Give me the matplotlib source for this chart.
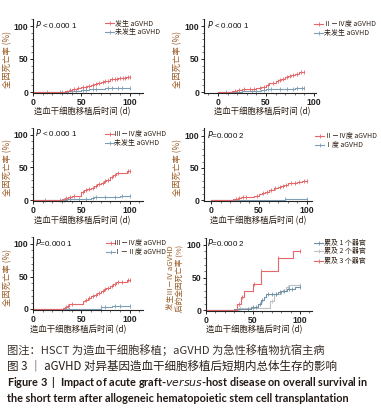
import numpy as np
import matplotlib
matplotlib.use("Agg")
import matplotlib.pyplot as plt
from matplotlib.lines import Line2D
from matplotlib.ticker import MultipleLocator

plt.rcParams['font.family'] = ['Noto Sans CJK SC', 'DejaVu Sans']

W, H = 381, 413

# ---------------- data ----------------
# Panel 1: 发生 aGVHD vs 未发生 aGVHD
p1_red_t = [0, 33, 35, 37, 40, 43, 46, 50, 53, 56, 60, 63, 66, 70, 73, 76, 80, 84, 88, 92, 96]
p1_red_v = [0, 1, 2, 3, 4, 5, 6, 7, 8, 9, 10, 12, 13, 15, 16, 17, 19, 20, 21, 21.5, 22.5]
p1_red_c = [38, 42, 47, 52, 55, 58, 62, 65, 68, 72, 75, 78, 82, 85, 87, 90, 93, 95, 98, 100]
p1_blue_t = [0, 36, 42, 50, 58, 62, 75]
p1_blue_v = [0, 1, 2, 3, 4, 5, 6]
p1_blue_c = [15, 28, 30, 35, 40, 45, 52, 55, 62, 65, 78, 82, 88, 92, 100]

# Panel 2: II-IV 度 vs 未发生
p2_red_t = [0, 15, 20, 25, 30, 40, 45, 50, 53, 56, 60, 63, 66, 70, 73, 76, 80, 84, 88]
p2_red_v = [0, 1, 3, 4, 5, 6, 8, 11, 13, 14, 16, 18, 20, 23, 25, 26, 28, 30, 31]
p2_red_c = [18, 22, 27, 33, 38, 44, 48, 52, 57, 62, 65, 68, 72, 75, 78, 82, 86, 90]
p2_blue_t = [0, 25, 30, 45, 50, 60, 80]
p2_blue_v = [0, 1, 2, 3, 4, 5, 6]
p2_blue_c = [8, 20, 25, 35, 40, 48, 52, 55, 65, 72, 78, 82, 88, 90]

# Panel 3: III-IV 度 vs 未发生
p3_red_t = [0, 30, 33, 36, 40, 50, 53, 56, 60, 63, 66, 70, 73, 76, 80, 83, 86, 97]
p3_red_v = [0, 2, 3, 5, 6, 12, 15, 17, 19, 22, 24, 26, 29, 31, 35, 38, 41, 44]
p3_red_c = [34, 38, 42, 52, 55, 58, 62, 65, 68, 72, 75, 78, 82, 85, 88, 98, 100]
p3_blue_t = [0, 35, 40, 60, 63, 90]
p3_blue_v = [0, 1, 2, 3, 5, 6]
p3_blue_c = [12, 28, 32, 38, 48, 55, 62, 65, 75, 85, 92, 100]

# Panel 4: II-IV 度 vs I 度
p4_red_t = [0, 23, 25, 28, 31, 45, 50, 53, 56, 60, 63, 66, 70, 73, 76, 80, 85, 90, 95]
p4_red_v = [0, 1, 2, 3, 5, 6, 9, 11, 13, 15, 16, 18, 20, 22, 24, 26, 27, 28, 30]
p4_red_c = [26, 29, 33, 36, 48, 54, 58, 62, 67, 72, 75, 78, 83, 88, 92, 97, 100]
p4_blue_t = [0, 77]
p4_blue_v = [0, 1.5]
p4_blue_c = [77, 100]

# Panel 5: III-IV 度 vs I-II 度
p5_red_t = [0, 31, 33, 35, 37, 52, 54, 57, 60, 63, 66, 70, 73, 76, 80, 83, 86, 97]
p5_red_v = [0, 1, 3, 5, 7, 12, 14, 17, 20, 22, 25, 28, 31, 33, 36, 39, 42, 45]
p5_red_c = [34, 36, 40, 55, 58, 62, 65, 68, 72, 75, 78, 82, 85, 88, 92, 98, 100]
p5_blue_t = [0, 70, 82]
p5_blue_v = [0, 3, 5]
p5_blue_c = [37, 70, 75, 85, 90, 100]

# Panel 6: 累及器官数
p6_o1_t = [0, 30, 48, 55, 59, 62, 64, 77, 80, 86, 95]
p6_o1_v = [0, 2, 5, 10, 15, 20, 24, 28, 30, 33, 36]
p6_o1_c = [33, 45, 50, 53, 57, 60, 66, 70, 74, 79, 83, 88, 92, 100]
p6_o2_t = [0, 35, 68, 72, 80, 85, 88]
p6_o2_v = [0, 3, 14, 24, 30, 35, 38]
p6_o2_c = [36, 50, 70, 74, 82, 87, 100]
p6_o3_t = [0, 33, 37, 40, 50, 58, 77, 93]
p6_o3_v = [0, 10, 20, 30, 40, 60, 80, 90]
p6_o3_c = [35, 38, 51, 59, 77, 100]

END = 100
RED = '#e4676a'
BLUE = '#7c9fb7'
BLUE2 = '#6f90a6'
GRAY = '#bcc1c6'
LABC = '#9a5b25'
TXT = '#2e2015'

xticks = [0, 50, 100]
yticks = [0, 50, 100]

fig = plt.figure(figsize=(W / 100, H / 100), dpi=100)
fig.patch.set_facecolor('white')


def make_ax(L, R, T, B, px0, px100, py0, py100):
    ax = fig.add_axes([L / W, 1 - B / H, (R - L) / W, (B - T) / H])
    sx = (px100 - px0) / 100.0
    sy = (py0 - py100) / 100.0
    ax.set_xlim((L - px0) / sx, (R - px0) / sx)
    ax.set_ylim((py0 - B) / sy, (py0 - T) / sy)
    for s in ['top', 'right']:
        ax.spines[s].set_visible(False)
    for s in ['left', 'bottom']:
        ax.spines[s].set_linewidth(0.8)
        ax.spines[s].set_color('#222222')
    ax.set_xticks(xticks)
    ax.set_yticks(yticks)
    ax.xaxis.set_minor_locator(MultipleLocator(10))
    ax.yaxis.set_minor_locator(MultipleLocator(10))
    ax.tick_params(which='major', length=2.5, width=0.7, pad=1, labelsize=6.2,
                   colors='#222222')
    ax.tick_params(which='minor', length=1.3, width=0.5, colors='#444444')
    for lab in ax.get_xticklabels() + ax.get_yticklabels():
        lab.set_fontfamily('Liberation Sans')
        lab.set_fontweight('bold')
    ax.patch.set_alpha(0)
    return ax


def km(ax, t, v, c, color, end=END):
    t = np.asarray(t, float)
    v = np.asarray(v, float)
    tt = np.append(t, end)
    vv = np.append(v, v[-1])
    ax.step(tt, vv, where='post', color=color, lw=0.8, clip_on=False)
    c = np.asarray(c, float)
    idx = np.searchsorted(t, c, side='right') - 1
    ax.plot(c, v[idx], linestyle='none', marker='|', ms=3, mew=0.6,
            color=color, clip_on=False)


def legend(x0, x_text, ys, labels, colors):
    for y, lab, col in zip(ys, labels, colors):
        fy = 1 - y / H
        fig.add_artist(Line2D([x0 / W, (x0 + 9) / W], [fy, fy], color=col, lw=0.8,
                              transform=fig.transFigure))
        fig.add_artist(Line2D([(x0 + 4.5) / W], [fy], color=col, marker='|', ms=3,
                              mew=0.6, transform=fig.transFigure))
        fig.text(x_text / W, fy, lab, fontsize=5, color=TXT, ha='left', va='center')


def ptext(x, y, s):
    fig.text(x / W, 1 - y / H, s, fontsize=5.8, ha='left', va='center', color='#111111',
             family='Liberation Sans')


def ylab(x, y, s, fs=6):
    fig.text(x / W, 1 - y / H, s, rotation=90, fontsize=fs, ha='center', va='center',
             color=LABC, linespacing=1.2)


def xlab(x, y, s):
    fig.text(x / W, 1 - y / H, s, fontsize=6, ha='center', va='center', color=TXT)


XL = '造血干细胞移植后时间 (d)'
YL = '全因死亡率 (%)'

# Panel 1
ax1 = make_ax(33, 143, 19, 93, 32, 129.5, 92, 26)
km(ax1, p1_blue_t, p1_blue_v, p1_blue_c, BLUE)
km(ax1, p1_red_t, p1_red_v, p1_red_c, RED)
ptext(35, 24, '$P$ < 0.000 1')
legend(105, 115, [23, 32], ['发生 aGVHD', '未发生 aGVHD'], [RED, BLUE])
ylab(8, 59, YL)
xlab(82, 111.5, XL)

# Panel 2
ax2 = make_ax(204, 316, 19, 93, 218, 314, 92, 26)
km(ax2, p2_blue_t, p2_blue_v, p2_blue_c, BLUE, end=90)
km(ax2, p2_red_t, p2_red_v, p2_red_c, RED, end=90)
ptext(207, 24, '$P$ < 0.000 1')
legend(314, 324, [24, 33], ['Ⅱ－Ⅳ度 aGVHD', '未发生 aGVHD'], [RED, BLUE])
ylab(178, 59, YL)
xlab(262, 111.5, XL)

# Panel 3
ax3 = make_ax(33, 143, 128, 201, 32, 129.5, 200, 135)
km(ax3, p3_blue_t, p3_blue_v, p3_blue_c, BLUE)
km(ax3, p3_red_t, p3_red_v, p3_red_c, RED)
ptext(35, 133, '$P$ < 0.000 1')
legend(105, 114, [134, 143], ['Ⅲ－Ⅳ度 aGVHD', '未发生 aGVHD'], [RED, BLUE])
ylab(8, 168, YL)
xlab(82, 221, XL)

# Panel 4
ax4 = make_ax(204, 312, 128, 201, 211, 307, 200, 136)
km(ax4, p4_blue_t, p4_blue_v, p4_blue_c, BLUE)
km(ax4, p4_red_t, p4_red_v, p4_red_c, RED)
ptext(207, 134, '$P$=0.000 2')
legend(315, 325, [136, 145], ['Ⅱ－Ⅳ度 aGVHD', 'Ⅰ度 aGVHD'], [RED, BLUE])
ylab(178, 168, YL)
xlab(258, 221, XL)

# Panel 5
ax5 = make_ax(33, 143, 237, 310, 32, 129.5, 309, 244)
km(ax5, p5_blue_t, p5_blue_v, p5_blue_c, BLUE)
km(ax5, p5_red_t, p5_red_v, p5_red_c, RED)
ptext(35, 243, '$P$=0.000 1')
legend(106, 114, [243, 252], ['Ⅲ－Ⅳ度 aGVHD', 'Ⅰ－Ⅱ度 aGVHD'], [RED, BLUE])
ylab(8, 277, YL)
xlab(78, 329.5, XL)

# Panel 6
ax6 = make_ax(206, 312, 238, 311, 206, 300, 310, 245)
km(ax6, p6_o2_t, p6_o2_v, p6_o2_c, GRAY)
km(ax6, p6_o1_t, p6_o1_v, p6_o1_c, BLUE2)
km(ax6, p6_o3_t, p6_o3_v, p6_o3_c, RED)
ptext(207, 243, '$P$=0.000 2')
legend(314, 324, [243, 251, 261], ['累及 1 个器官', '累及 2 个器官', '累及 3 个器官'],
       [BLUE2, GRAY, RED])
ylab(176, 278, '发生Ⅲ－Ⅳ aGVHD\n后的全因死亡率 (%)', fs=5.5)
xlab(254, 329.5, XL)

# Caption
fig.text(7 / W, 1 - 350 / H, '图注：HSCT 为造血干细胞移植；aGVHD 为急性移植物抗宿主病',
         fontsize=8.1, color='#3a302a', ha='left', va='center')
fig.text(7 / W, 1 - 366 / H, '图 3 ｜ aGVHD 对异基因造血干细胞移植后短期内总体生存的影响',
         fontsize=8.3, color='#2a1e16', ha='left', va='center')
fig.text(7 / W, 1 - 383 / H,
         'Figure 3  |  Impact of acute graft-$\\mathbf{\\it{versus}}$-host disease on overall survival in',
         fontsize=7.8, color='#231815', ha='left', va='center', family='Lato', weight='bold')
fig.text(7 / W, 1 - 398 / H,
         'the short term after allogeneic hematopoietic stem cell transplantation',
         fontsize=7.85, color='#231815', ha='left', va='center', family='Lato', weight='bold')

fig.savefig('out.png', dpi=100, facecolor='white')
